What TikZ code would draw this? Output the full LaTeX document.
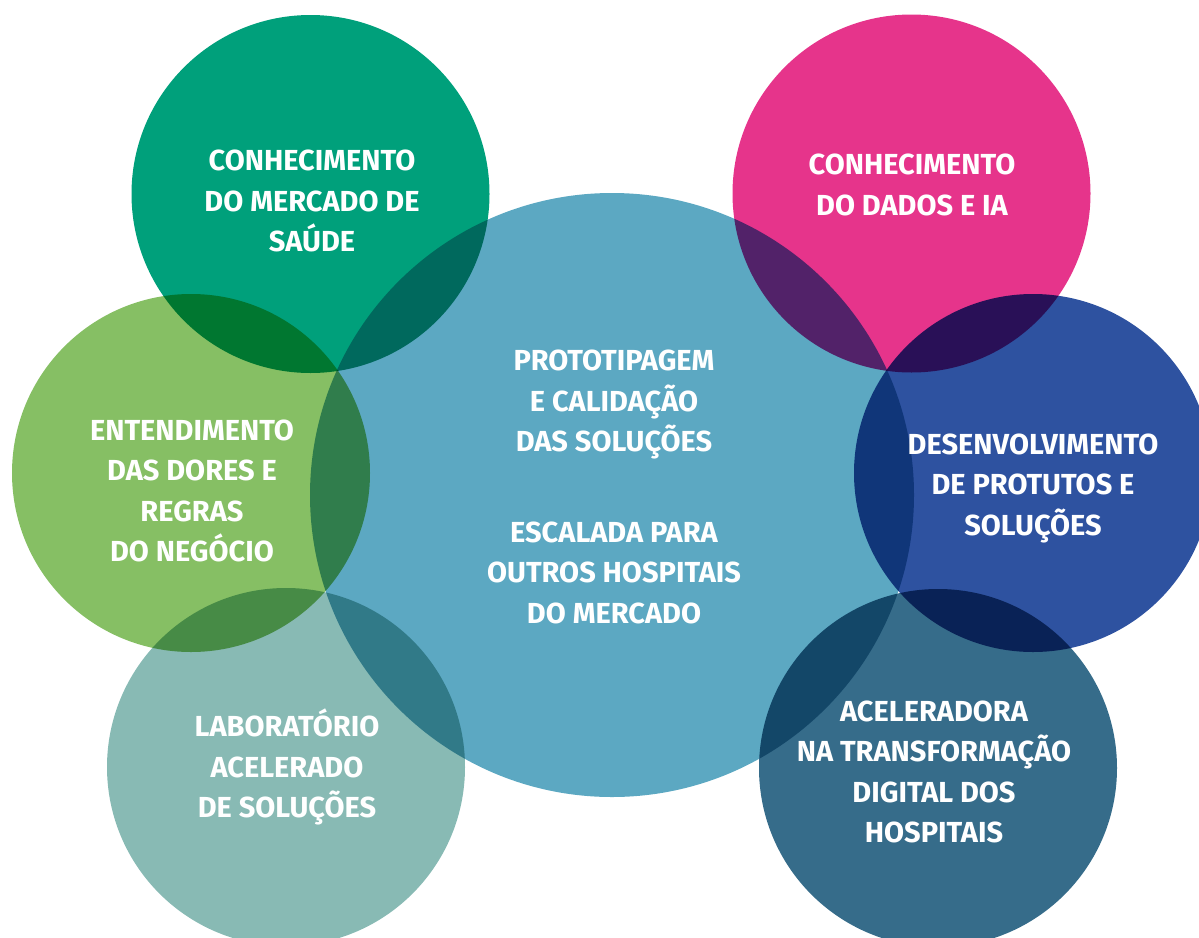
\documentclass[tikz,border=0pt]{standalone}
\usepackage{fontspec}
\setmainfont{Fira Sans}
\begin{document}
\begin{tikzpicture}[x=1pt,y=-1pt,
  bubble/.style={draw=none},
  label/.style={text=white,font=\bfseries\fontsize{29}{40.5}\selectfont,align=center,inner sep=0pt}]
\definecolor{cGreen}{HTML}{00A07B}
\definecolor{cPink}{HTML}{E6348B}
\definecolor{cLime}{HTML}{86BF64}
\definecolor{cBlue}{HTML}{2E52A0}
\definecolor{cSage}{HTML}{88BAB4}
\definecolor{cPetrol}{HTML}{366C8A}
\definecolor{cSky}{HTML}{5CA8C2}
\useasboundingbox (0,0) rectangle (1199,937);
\clip (0,0) rectangle (1199,937);
% overlapping discs, darkened where they meet
\begin{scope}[blend group=multiply]
  \fill[cSky]    (612,495) circle (302);
  \fill[cGreen]  (310.5,194) circle (179);
  \fill[cPink]   (911.5,193.5) circle (179);
  \fill[cLime]   (191,473) circle (179);
  \fill[cBlue]   (1033,473) circle (179);
  \fill[cSage]   (286,767) circle (179);
  \fill[cPetrol] (938,768) circle (179);
\end{scope}
% captions
\node[label] (tMercado) at (312,201) {CONHECIMENTO\\DO MERCADO DE\\SAÚDE};
\node[label] (tDados) at (912,185) {CONHECIMENTO\\DO DADOS E IA};
\node[label] (tDores) at (192,491) {ENTENDIMENTO\\DAS DORES E\\REGRAS\\DO NEGÓCIO};
\node[label] (tProdutos) at (1033,488) {DESENVOLVIMENTO\\DE PROTUTOS E\\SOLUÇÕES};
\node[label] (tLab) at (287,767) {LABORATÓRIO\\ACELERADO\\DE SOLUÇÕES};
\node[label] (tTransf) at (934,772) {ACELERADORA\\NA TRANSFORMAÇÃO\\DIGITAL DOS\\HOSPITAIS};
\node[label] (tCentro) at (614,487) {PROTOTIPAGEM\\E CALIDAÇÃO\\DAS SOLUÇÕES\\[50pt]ESCALADA PARA\\OUTROS HOSPITAIS\\DO MERCADO};
\end{tikzpicture}
\end{document}
